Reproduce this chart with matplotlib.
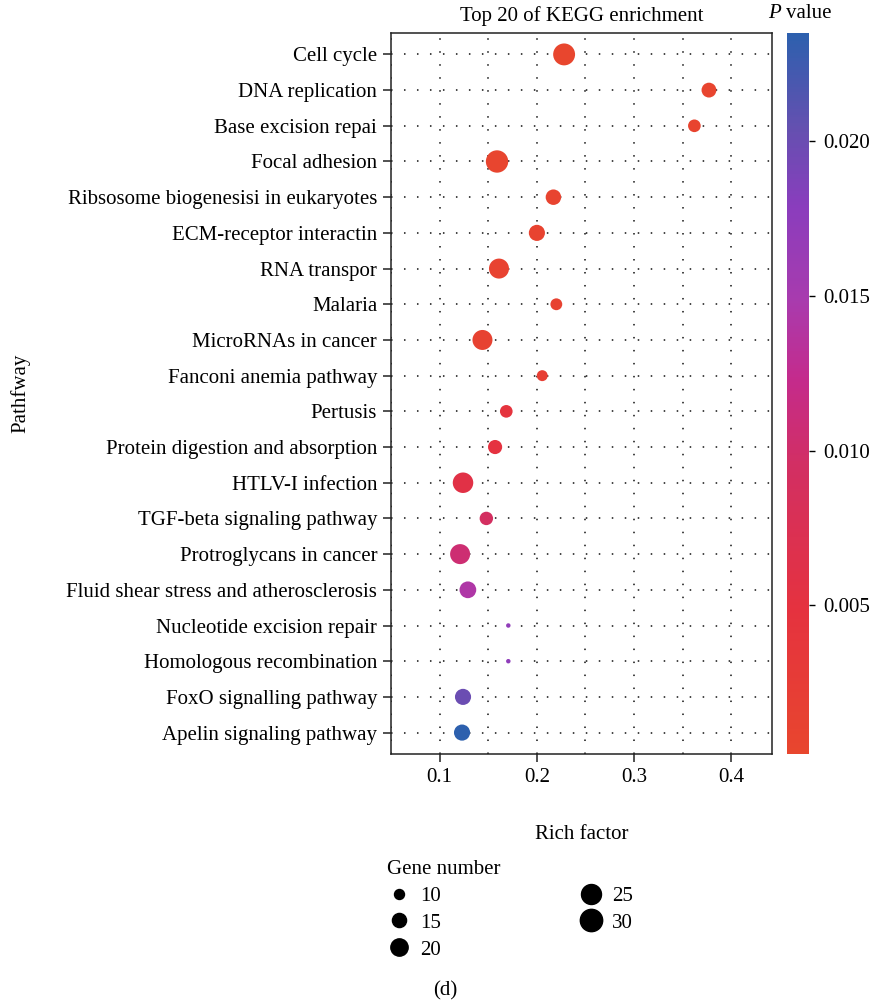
import numpy as np
import matplotlib.pyplot as plt
from matplotlib.colors import LinearSegmentedColormap, Normalize
from matplotlib.lines import Line2D

plt.rcParams['font.family'] = ['Liberation Serif', 'DejaVu Serif']
FS = 15

# data (top to bottom)
pathways = ["Cell cycle", "DNA replication", "Base excision repai", "Focal adhesion",
            "Ribsosome biogenesisi in eukaryotes", "ECM-receptor interactin", "RNA transpor",
            "Malaria", "MicroRNAs in cancer", "Fanconi anemia pathway", "Pertusis",
            "Protein digestion and absorption", "HTLV-I infection", "TGF-beta signaling pathway",
            "Protroglycans in cancer", "Fluid shear stress and atherosclerosis",
            "Nucleotide excision repair", "Homologous recombination",
            "FoxO signalling pathway", "Apelin signaling pathway"]
rich_factor = [0.228, 0.377, 0.362, 0.159, 0.217, 0.200, 0.161, 0.220, 0.144, 0.2055,
               0.1685, 0.157, 0.124, 0.148, 0.121, 0.129, 0.1706, 0.1706, 0.124, 0.123]
gene_number = [29, 16, 13, 30, 17, 18, 25, 12, 25, 11,
               13, 15, 26, 14, 25, 19, 6, 6, 18, 18]
p_value = [0.0003, 0.0005, 0.0006, 0.0004, 0.0008, 0.0009, 0.0010, 0.0011, 0.0012, 0.0018,
           0.0045, 0.0050, 0.0058, 0.0092, 0.0105, 0.0143, 0.0172, 0.0174, 0.0200, 0.0235]
legend_genes = [10, 15, 20, 25, 30]
x_ticks = [0.1, 0.2, 0.3, 0.4]
p_ticks = [0.005, 0.010, 0.015, 0.020]


def marker_area(g):
    # area of the circle grows linearly with gene number (ggplot-like size scale)
    return (20.0 * np.asarray(g, dtype=float) - 100.0) * (72.0 / 100.0) ** 2


cmap = LinearSegmentedColormap.from_list(
    "pval", [(0.0, "#E8462E"), (0.2, "#E5323F"), (0.4, "#D22F63"), (0.52, "#C42B8C"),
             (0.63, "#A83BAE"), (0.76, "#8A3DBD"), (0.87, "#6450B0"), (1.0, "#2D60AE")])
norm = Normalize(vmin=0.0002, vmax=0.0235)

fig = plt.figure(figsize=(8.71, 10), dpi=100)
ax = fig.add_axes([0.449, 0.246, 0.4375, 0.721])
cax = fig.add_axes([0.9036, 0.246, 0.0253, 0.721])

ypos = np.arange(len(pathways))[::-1] + 1
sc = ax.scatter(rich_factor, ypos, s=marker_area(gene_number), c=p_value,
                cmap=cmap, norm=norm, edgecolors='none', zorder=3)

ax.set_xlim(0.0507, 0.442)
ax.set_ylim(0.4, len(pathways) + 0.6)
ax.set_yticks(ypos)
ax.set_yticklabels(pathways, fontsize=FS)
ax.set_xticks(x_ticks)
ax.set_xticklabels([f"{t:.1f}" for t in x_ticks], fontsize=FS)
ax.set_xticks(np.arange(0.05, 0.45, 0.05), minor=True)
ax.tick_params(axis='both', which='major', length=6, width=1.1, color='#222222', pad=4)
ax.tick_params(axis='x', which='minor', length=0)
ax.grid(True, axis='x', which='both', linestyle=(0, (1, 7.5)), color='#111111', lw=1.1)
ax.grid(True, axis='y', which='major', linestyle=(0, (1, 7.5)), color='#111111', lw=1.1)
ax.set_axisbelow(True)
for sp in ax.spines.values():
    sp.set_linewidth(1.1)
    sp.set_color('#222222')

ax.set_title("Top 20 of KEGG enrichment", fontsize=FS, pad=9)
ax.set_xlabel("Rich factor", fontsize=FS)
ax.xaxis.set_label_coords(0.5, -0.0985)
ax.set_ylabel("Pathfway", fontsize=FS)
ax.yaxis.set_label_coords(-0.947, 0.5)

cb = fig.colorbar(sc, cax=cax, ticks=p_ticks)
cb.outline.set_visible(False)
cb.ax.set_yticklabels([f"{t:.3f}" for t in p_ticks], fontsize=FS)
cb.ax.tick_params(length=4, width=1, pad=6)
fig.text(0.897, 0.987, "P", ha='right', va='center', fontsize=FS, fontstyle='italic')
fig.text(0.902, 0.987, "value", ha='left', va='center', fontsize=FS)

handles = [Line2D([], [], marker='o', linestyle='none', color='black',
                  markersize=np.sqrt(marker_area(g))) for g in legend_genes]
fig.legend(handles, [str(g) for g in legend_genes], title="Gene number",
           loc='upper left', bbox_to_anchor=(0.444, 0.140), ncol=2, frameon=False,
           fontsize=FS, title_fontsize=FS, alignment='left', handlelength=1.2,
           columnspacing=6.6, handletextpad=0.4, labelspacing=0.35, borderpad=0,
           borderaxespad=0)

fig.text(0.511, 0.009, "(d)", ha='center', va='center', fontsize=FS)

fig.savefig("out.png", dpi=100)
